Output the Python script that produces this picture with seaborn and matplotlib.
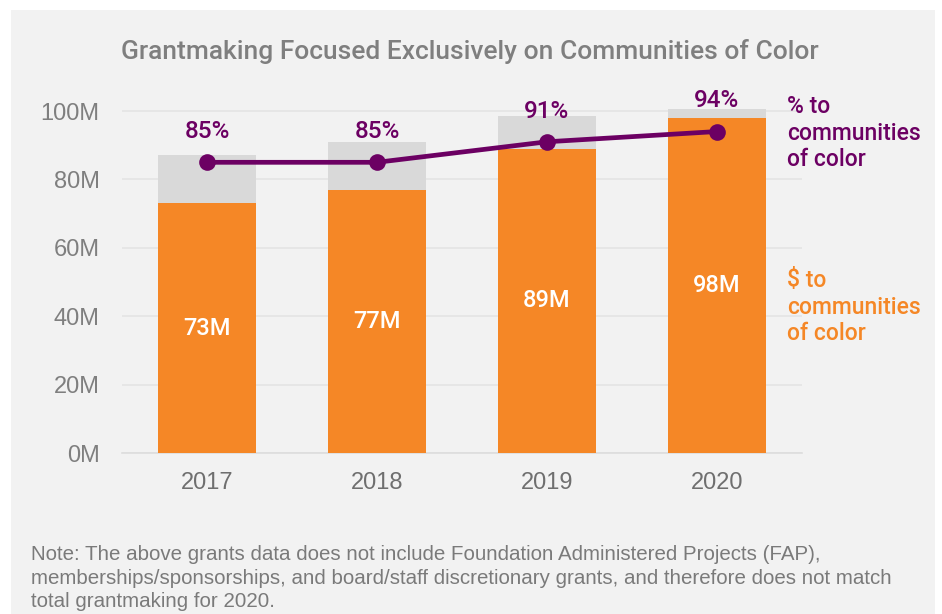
import pandas as pd
import matplotlib.pyplot as plt
import matplotlib.patches as mpatches
import seaborn as sns

# values
years = ["2017", "2018", "2019", "2020"]
total_m = [87, 91, 98.5, 100.5]      # all grantmaking (gray)
coc_m = [73, 77, 89, 98]              # $ to communities of color (orange)
coc_pct = [85, 85, 91, 94]            # % to communities of color (line)
coc_labels = ["73M", "77M", "89M", "98M"]
pct_labels = ["85%", "85%", "91%", "94%"]
ytick_vals = [0, 20, 40, 60, 80, 100]
ytick_labels = ["0M", "20M", "40M", "60M", "80M", "100M"]

ORANGE = "#f58726"
GRAY = "#d9d9d9"
PURPLE = "#6c0063"
BG = "#f2f2f2"

df = pd.DataFrame({"year": years, "total": total_m, "coc": coc_m, "pct": coc_pct})

sns.set_style("white")
plt.rcParams["font.family"] = ["Liberation Sans", "DejaVu Sans"]
EMPH = ["Roboto", "Liberation Sans", "DejaVu Sans"]

fig = plt.figure(figsize=(9.42, 6.14), dpi=100)
fig.patch.set_facecolor("white")
# gray panel (white strip at top and right)
fig.patches.append(mpatches.Rectangle((11 / 942, 0), 924 / 942, 604 / 614,
                                      transform=fig.transFigure, facecolor=BG,
                                      edgecolor="none", zorder=-10))

ax = fig.add_axes([122 / 942, 161 / 614, 680 / 942, 0.6127])
ax.set_facecolor("none")

sns.barplot(data=df, x="year", y="total", color=GRAY, width=0.58,
            saturation=1, linewidth=0, ax=ax, zorder=2)
sns.barplot(data=df, x="year", y="coc", color=ORANGE, width=0.58,
            saturation=1, linewidth=0, ax=ax, zorder=3)

for i, lab in enumerate(coc_labels):
    ax.text(i, coc_m[i] / 2, lab, ha="center", va="center", color="white",
            fontsize=17, fontweight="medium", family=EMPH, zorder=5)

ax.set_ylim(0, 110)
ax.set_xlim(-0.5, 3.5)
ax.set_yticks(ytick_vals)
ax.set_yticklabels(ytick_labels)
ax.grid(axis="y", color="#e4e4e4", linewidth=1.2, zorder=0)
ax.set_axisbelow(True)
for s in ["top", "right", "left"]:
    ax.spines[s].set_visible(False)
ax.spines["bottom"].set_color("#dddddd")
ax.spines["bottom"].set_linewidth(1.2)
ax.tick_params(axis="y", length=0, pad=16, labelsize=17, labelcolor="#7f7f7f")
ax.tick_params(axis="x", length=0, pad=14, labelsize=17, labelcolor="#6f6f6f")
ax.set_xlabel("")
ax.set_ylabel("")

# percent line on a twin axis using the same 0-110 scale
ax2 = ax.twinx()
ax2.set_ylim(0, 110)
sns.lineplot(x=range(len(years)), y=coc_pct, color=PURPLE, linewidth=3.4,
             marker="o", markersize=12, markeredgewidth=0, ax=ax2, zorder=6)
ax2.set_xlim(-0.5, 3.5)
ax2.set_yticks([])
for s in ax2.spines.values():
    s.set_visible(False)
for i, lab in enumerate(pct_labels):
    ax2.annotate(lab, (i, coc_pct[i]), xytext=(0, 22), textcoords="offset points",
                 ha="center", va="center", color=PURPLE, fontsize=17.5,
                 fontweight="medium", family=EMPH)

fig.text(0.499, 1 - 52 / 614, "Grantmaking Focused Exclusively on Communities of Color",
         ha="center", va="center", fontsize=19, fontweight="medium", family=EMPH,
         color="#7f7f7f")

fig.text(787 / 942, 1 - 133 / 614, "% to\ncommunities\nof color", ha="left",
         va="center", fontsize=16.5, fontweight="medium", family=EMPH, color=PURPLE,
         linespacing=1.2)
fig.text(787 / 942, 1 - 307 / 614, "$ to\ncommunities\nof color", ha="left",
         va="center", fontsize=16.5, fontweight="medium", family=EMPH, color=ORANGE,
         linespacing=1.2)

fig.text(31 / 942, 1 - 578 / 614,
         "Note: The above grants data does not include Foundation Administered Projects (FAP),\n"
         "memberships/sponsorships, and board/staff discretionary grants, and therefore does not match\n"
         "total grantmaking for 2020.",
         ha="left", va="center", fontsize=14.8, color="#7a7a7a", linespacing=1.28)

fig.savefig("out.png", dpi=100)
